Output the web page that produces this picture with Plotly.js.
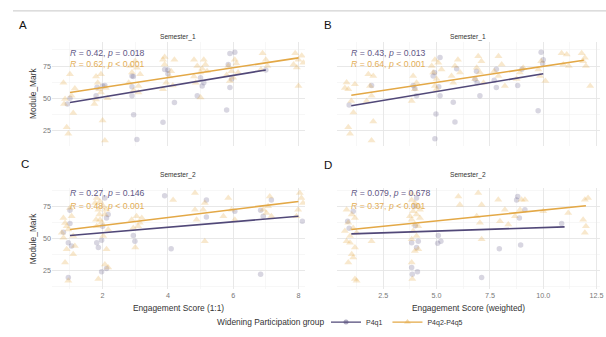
<!DOCTYPE html>
<html>
<head>
<meta charset="utf-8">
<script src="https://cdn.plot.ly/plotly-3.0.1.min.js"></script>
<style>html,body{margin:0;padding:0;background:#fff}#chart{width:606px;height:337px}</style>
</head>
<body>
<div id="chart"></div>
<script>
// ---------- Data ----------
var groups = ['P4q1', 'P4q2-P4q5'];
var legendTitle = 'Widening Participation group';
var panelLetters = ['A', 'B', 'C', 'D'];
var panelTitles = ['Semester_1', 'Semester_1', 'Semester_2', 'Semester_2'];
var xTitles = ['Engagement Score (1:1)', 'Engagement Score (weighted)'];
var yTitle = 'Module_Mark';

var corrP4q1 = ['<i>R</i> = 0.42, <i>p</i> = 0.018', '<i>R</i> = 0.43, <i>p</i> = 0.013', '<i>R</i> = 0.27, <i>p</i> = 0.146', '<i>R</i> = 0.079, <i>p</i> = 0.678'];
var corrP4q2 = ['<i>R</i> = 0.62, <i>p</i> &lt; 0.001', '<i>R</i> = 0.64, <i>p</i> &lt; 0.001', '<i>R</i> = 0.48, <i>p</i> &lt; 0.001', '<i>R</i> = 0.37, <i>p</i> &lt; 0.001'];

var ticks11 = [2, 4, 6, 8];
var ticks11Text = ['2', '4', '6', '8'];
var minor11 = [1, 3, 5, 7];
var ticksW = [2.5, 5, 7.5, 10, 12.5];
var ticksWText = ['2.5', '5.0', '7.5', '10.0', '12.5'];
var minorW = [1.25, 3.75, 6.25, 8.75, 11.25];
var ticksY = [25, 50, 75];
var ticksYText = ['25', '50', '75'];
var minorY = [12.5, 37.5, 62.5, 87.5];

// Panel A: Semester_1, Engagement Score (1:1)
var A_p4q1_x = [0.92,1.0,1.8,1.83,2.0,2.07,2.9,2.94,2.9,2.9,2.95,3.05,3.9,4.0,3.85,4.2,4.9,5.0,5.1,5.05,5.9,6.05,5.85,5.9,5.8,7.0,4.0,5.95];
var A_p4q1_y = [45.5,50,52,58.6,59.6,60,67.3,67,59,52,37.3,18,72.4,72,31.4,46.8,52,66,62,59.6,84.7,85.8,76.3,58.3,41,72,69,65];
var A_p4q2_x = [0.8,0.85,0.9,1.0,1.1,0.95,0.82,1.15,1.05,1.8,1.95,1.85,1.95,1.8,2.0,2.07,1.75,2.1,2.15,1.9,2.85,2.9,3.05,3.15,3.1,3.1,2.8,3.0,2.95,3.85,3.9,4.2,4.05,3.95,3.85,4.1,4.15,3.9,4.8,4.9,5.0,5.15,5.1,4.8,5.0,4.85,5.2,5.05,5.85,6.0,5.9,6.05,5.95,6.1,5.8,6.15,6.9,7.0,6.85,7.05,7.9,8.0,8.15,8.0,7.85,8.1,7.95];
var A_p4q2_y = [62,49.4,27.6,68.6,38.6,22.4,45.5,57.6,52,67,68.6,62,54.5,49,32.7,17.3,45.5,58,50,57,75,70,73.7,68.6,59.6,54.5,62,79,56,80,76.3,80,67,62,57,71,60,82,80,75,70,76.3,80,67,50.6,62,71,73,75,66,63.5,80,71,77,68,70,85,80,72.4,75,85,80,77.6,59.6,76.3,83,74];
var A_fit_p4q1_x = [1, 7], A_fit_p4q1_y = [46.8, 72];
var A_fit_p4q2_x = [1, 8], A_fit_p4q2_y = [54.5, 81.4];

// Panel B: Semester_1, Engagement Score (weighted)
var B_p4q1_x = [0.9,1.95,3.98,4.84,4.9,5.16,5.16,4.97,4.92,5.78,5.86,5.94,6.87,6.8,7.03,7.8,7.8,8.8,9.0,9.76,9.9,9.97,4.06,5.1,6.9,7.7,3.9,10.0];
var B_p4q1_y = [44.8,60,57.6,67.3,70,81.6,52,37.8,18.6,47,31.6,73,71,64.8,52,72.5,58.4,60,72.5,40.4,85.8,77,52,59,62,64,60,80];
var B_p4q2_x = [0.78,0.86,1.0,1.1,0.86,0.94,1.17,0.7,1.8,2.03,1.95,2.03,1.95,1.88,1.72,3.9,3.98,3.83,4.06,4.77,4.92,4.84,5.0,4.92,5.23,5.08,5.0,5.7,5.86,6.1,5.78,6.0,6.95,7.1,6.88,7.03,6.8,7.2,7.9,8.05,7.9,8.2,7.7,8.9,9.06,8.75,9.9,9.85,10.1,9.77,10.86,11.1,10.94,11.2,11.8,11.95,12.0,12.2,11.87];
var B_p4q2_y = [62.2,57,48,39,27.6,22.4,61,58,68.6,67.3,52,32,17.3,59.6,48,67.3,57,48,62,75,80,70,65,59.6,72.4,77.6,57,67.3,75,70,62,80,82.7,78.8,73.7,70,65,62,82.7,76.3,67.3,59.6,71,70,73.7,65,78.8,67.3,63.5,72.4,85,84,76.3,75,85,81.4,75,59.6,78.8];
var B_fit_p4q1_x = [1, 10], B_fit_p4q1_y = [44.2, 69.1];
var B_fit_p4q2_x = [1, 11.9], B_fit_p4q2_y = [52.4, 79.6];

// Panel C: Semester_2, Engagement Score (1:1)
var C_p4q1_x = [0.8,1.0,0.95,1.05,0.95,1.0,1.82,1.87,1.97,2.07,2.17,2.12,2.0,1.97,2.12,2.94,2.99,3.9,4.1,5.18,5.18,6.05,6.84,6.92,6.84,7.17,8.12];
var C_p4q1_y = [55,72,46.8,44.2,19.9,61.7,46.8,43,48.8,81.4,68.6,66,59.6,24.2,26.8,52.4,48,83.2,42.2,66.8,80,71.2,72,67.3,22.4,80,63.5];
var C_p4q2_x = [0.8,0.85,0.95,0.8,0.9,0.85,0.95,1.15,1.1,1.0,1.05,0.9,0.75,1.1,1.82,1.92,2.02,1.87,2.07,1.92,1.97,1.82,2.17,2.02,2.12,2.07,1.87,2.17,1.77,2.12,1.9,1.8,2.89,3.04,3.14,3.09,2.94,3.2,3.0,4.16,4.83,4.83,5.08,5.13,4.88,5.13,5.85,5.95,5.7,6.05,7.12,7.07,7.02,7.17,6.92,8.04,8.09,8.14,7.99,7.94];
var C_p4q2_y = [66,62,57,50.6,41.7,31.4,17.3,44.2,37.8,73.7,67.3,59.6,54.5,52,81.4,78.8,75,72.4,68.6,64.7,62.2,59.6,57,52,41.7,30,18.6,27.6,77.6,72.4,68.6,64.7,64.7,67.3,62.2,59.6,58.3,66,43,80,85.3,72.4,72.4,48,64.7,77.6,81.4,72.4,67.3,64.7,82.7,75,69.9,67.3,72.4,85.3,81.4,77.6,72.4,67.3];
var C_fit_p4q1_x = [1, 8], C_fit_p4q1_y = [52.4, 67.3];
var C_fit_p4q2_x = [1, 8], C_fit_p4q2_y = [57, 78.8];

// Panel D: Semester_2, Engagement Score (weighted)
var D_p4q1_x = [0.83,1.09,3.83,3.83,3.86,4.1,4.14,4.06,3.98,4.06,5.08,5.05,5.2,7.11,7.94,8.8,8.75,8.88,9.14,8.94,10.86,0.9,4.0];
var D_p4q1_y = [63.5,71.2,46.8,27.6,22.4,24.2,48,43,75,81.4,52.4,46.3,48,19.9,42.2,82.7,80,66,72.4,45,61.7,58,60];
var D_p4q2_x = [0.78,1.02,1.17,0.86,1.09,0.94,0.78,1.17,1.02,0.86,1.09,1.17,1.25,0.94,0.7,1.25,1.95,3.83,3.98,4.14,3.9,4.06,4.22,3.83,3.98,4.14,3.9,4.06,3.83,4.14,3.98,3.83,3.86,4.22,3.75,3.83,6.02,6.09,6.95,7.11,7.03,6.88,7.11,7.89,7.97,8.2,8.98,9.14,8.91,8.67,10.0,11.17,11.95,12.1,11.87,12.0,11.95,8.36];
var D_p4q2_y = [72.4,68.6,66,62.2,58.3,52,48,43,37.8,31.4,35.3,18.6,17.3,46.8,55.8,54.5,48,80,77.6,75,71.2,68.6,66,64.7,60.9,59.6,55.8,52,49.4,41.7,40.4,31.4,18.6,72.4,67.3,85,82.7,76.3,85.3,76.3,62.2,67.3,49.4,80.1,63.5,72.4,80.1,80.1,72.4,67.3,71.2,69.9,80.1,81.4,64.7,59.6,54.5,60.9];
var D_fit_p4q1_x = [1, 11], D_fit_p4q1_y = [53.7, 59.1];
var D_fit_p4q2_x = [1, 12], D_fit_p4q2_y = [57, 75.5];

// ---------- Styling ----------
var FONT = 'Liberation Sans, Arial, sans-serif';
var purpleLine = '#514878', orangeLine = '#e3a846';
var purplePt = 'rgba(77,69,117,0.22)', orangePt = 'rgba(229,170,70,0.27)';
var purpleText = '#5f5785', orangeText = '#e3ae57';

var panels = [
  {ax: '', p1x: A_p4q1_x, p1y: A_p4q1_y, p2x: A_p4q2_x, p2y: A_p4q2_y, f1x: A_fit_p4q1_x, f1y: A_fit_p4q1_y, f2x: A_fit_p4q2_x, f2y: A_fit_p4q2_y},
  {ax: '2', p1x: B_p4q1_x, p1y: B_p4q1_y, p2x: B_p4q2_x, p2y: B_p4q2_y, f1x: B_fit_p4q1_x, f1y: B_fit_p4q1_y, f2x: B_fit_p4q2_x, f2y: B_fit_p4q2_y},
  {ax: '3', p1x: C_p4q1_x, p1y: C_p4q1_y, p2x: C_p4q2_x, p2y: C_p4q2_y, f1x: C_fit_p4q1_x, f1y: C_fit_p4q1_y, f2x: C_fit_p4q2_x, f2y: C_fit_p4q2_y},
  {ax: '4', p1x: D_p4q1_x, p1y: D_p4q1_y, p2x: D_p4q2_x, p2y: D_p4q2_y, f1x: D_fit_p4q1_x, f1y: D_fit_p4q1_y, f2x: D_fit_p4q2_x, f2y: D_fit_p4q2_y}
];

var traces = [];
panels.forEach(function (p) {
  var xa = 'x' + p.ax, ya = 'y' + p.ax;
  traces.push({type: 'scatter', mode: 'markers', x: p.p1x, y: p.p1y, xaxis: xa, yaxis: ya, showlegend: false,
    marker: {symbol: 'circle', size: 5.5, color: purplePt}, hoverinfo: 'skip'});
  traces.push({type: 'scatter', mode: 'markers', x: p.p2x, y: p.p2y, xaxis: xa, yaxis: ya, showlegend: false,
    marker: {symbol: 'triangle-up', size: 7, color: orangePt}, hoverinfo: 'skip'});
  traces.push({type: 'scatter', mode: 'lines', x: p.f1x, y: p.f1y, xaxis: xa, yaxis: ya, showlegend: false,
    line: {color: purpleLine, width: 1.6}, hoverinfo: 'skip'});
  traces.push({type: 'scatter', mode: 'lines', x: p.f2x, y: p.f2y, xaxis: xa, yaxis: ya, showlegend: false,
    line: {color: orangeLine, width: 1.6}, hoverinfo: 'skip'});
});
// legend entries
traces.push({type: 'scatter', mode: 'lines+markers', x: [null], y: [null], name: groups[0],
  line: {color: purpleLine, width: 1.4}, marker: {symbol: 'circle', size: 5, color: 'rgba(77,69,117,0.45)'}});
traces.push({type: 'scatter', mode: 'lines+markers', x: [null], y: [null], name: groups[1],
  line: {color: orangeLine, width: 1.4}, marker: {symbol: 'triangle-up', size: 6, color: 'rgba(229,170,70,0.45)'}});

var W = 606, H = 337;
function px(v) { return v / W; }
function py(v) { return 1 - v / H; }

var gridMajor = '#e6e6e6', gridMinor = '#f1f1f1';
var tickFont = {family: FONT, size: 7.2, color: '#777'};
var titleFont = {family: FONT, size: 8.4, color: '#333'};

function xAxis(domain, range, vals, text, minorVals, anchor, showLabels, title) {
  var a = {domain: domain, range: range, anchor: anchor, tickmode: 'array', tickvals: vals, ticktext: text,
    showticklabels: showLabels, ticks: '', showline: false, zeroline: false,
    showgrid: true, gridcolor: gridMajor, gridwidth: 0.9, tickfont: tickFont,
    minor: {tickmode: 'array', tickvals: minorVals, showgrid: true, gridcolor: gridMinor, gridwidth: 0.6, ticks: ''}};
  if (title) a.title = {text: title, font: titleFont, standoff: 6};
  return a;
}
function yAxis(domain, range, anchor, showLabels, title) {
  var a = {domain: domain, range: range, anchor: anchor, tickmode: 'array', tickvals: ticksY, ticktext: ticksYText,
    showticklabels: showLabels, ticks: '', showline: false, zeroline: false,
    showgrid: true, gridcolor: gridMajor, gridwidth: 0.9, tickfont: tickFont,
    minor: {tickmode: 'array', tickvals: minorY, showgrid: true, gridcolor: gridMinor, gridwidth: 0.6, ticks: ''}};
  if (title) a.title = {text: title, font: titleFont, standoff: 5};
  return a;
}

var dxL = [px(52), px(305)], dxR = [px(337), px(600)];
var dyT = [py(147), py(42)], dyB = [py(292), py(190)];
var rx11 = [0.45, 8.2], rxW = [0.33, 12.66];
var ryT = [13.2, 94], ryB = [10.6, 89];

var annotations = [];
var letterPos = [[23, 25], [328, 25], [25, 165], [328, 166]];
var stripPos = [[178, 37], [468, 37], [178, 177], [468, 177]];
for (var i = 0; i < 4; i++) {
  annotations.push({xref: 'paper', yref: 'paper', x: px(letterPos[i][0]), y: py(letterPos[i][1]), text: panelLetters[i],
    showarrow: false, xanchor: 'center', yanchor: 'middle', font: {family: FONT, size: 11.5, color: '#111'}});
  annotations.push({xref: 'paper', yref: 'paper', x: px(stripPos[i][0]), y: py(stripPos[i][1]), text: panelTitles[i],
    showarrow: false, xanchor: 'center', yanchor: 'middle', font: {family: FONT, size: 6.6, color: '#333'}});
  var ax = i === 0 ? '' : String(i + 1);
  var yTop = i < 2 ? [84.8, 76.3] : [85.2, 75.5];
  annotations.push({xref: 'x' + ax, yref: 'y' + ax, x: 1, y: yTop[0], text: corrP4q1[i], showarrow: false,
    xanchor: 'left', yanchor: 'middle', borderpad: 0, xshift: -1, font: {family: FONT, size: 8.7, color: purpleText}});
  annotations.push({xref: 'x' + ax, yref: 'y' + ax, x: 1, y: yTop[1], text: corrP4q2[i], showarrow: false,
    xanchor: 'left', yanchor: 'middle', borderpad: 0, xshift: -1, font: {family: FONT, size: 8.7, color: orangeText}});
}
// legend title
annotations.push({xref: 'paper', yref: 'paper', x: px(326), y: py(325), text: legendTitle, showarrow: false,
  xanchor: 'right', yanchor: 'middle', font: {family: FONT, size: 8.4, color: '#333'}});

var layout = {
  width: W, height: H,
  margin: {l: 0, r: 0, t: 0, b: 0},
  paper_bgcolor: '#fff', plot_bgcolor: '#fff',
  font: {family: FONT, color: '#333'},
  xaxis: xAxis(dxL, rx11, ticks11, ticks11Text, minor11, 'y', false),
  yaxis: yAxis(dyT, ryT, 'x', true, yTitle),
  xaxis2: xAxis(dxR, rxW, ticksW, ticksWText, minorW, 'y2', false),
  yaxis2: yAxis(dyT, ryT, 'x2', false),
  xaxis3: xAxis(dxL, rx11, ticks11, ticks11Text, minor11, 'y3', true, xTitles[0]),
  yaxis3: yAxis(dyB, ryB, 'x3', true, yTitle),
  xaxis4: xAxis(dxR, rxW, ticksW, ticksWText, minorW, 'y4', true, xTitles[1]),
  yaxis4: yAxis(dyB, ryB, 'x4', false),
  showlegend: true,
  legend: {orientation: 'h', x: px(326), xanchor: 'left', y: py(325), yanchor: 'middle',
    font: {family: FONT, size: 7, color: '#333'}, itemwidth: 30, tracegroupgap: 0, bgcolor: 'rgba(0,0,0,0)'},
  shapes: [{type: 'line', xref: 'paper', yref: 'paper', x0: px(13), x1: 1, y0: py(11), y1: py(11),
    line: {color: '#c8c8c8', width: 1}}],
  annotations: annotations
};

Plotly.newPlot('chart', traces, layout, {staticPlot: true, displayModeBar: false});
</script>
</body>
</html>
